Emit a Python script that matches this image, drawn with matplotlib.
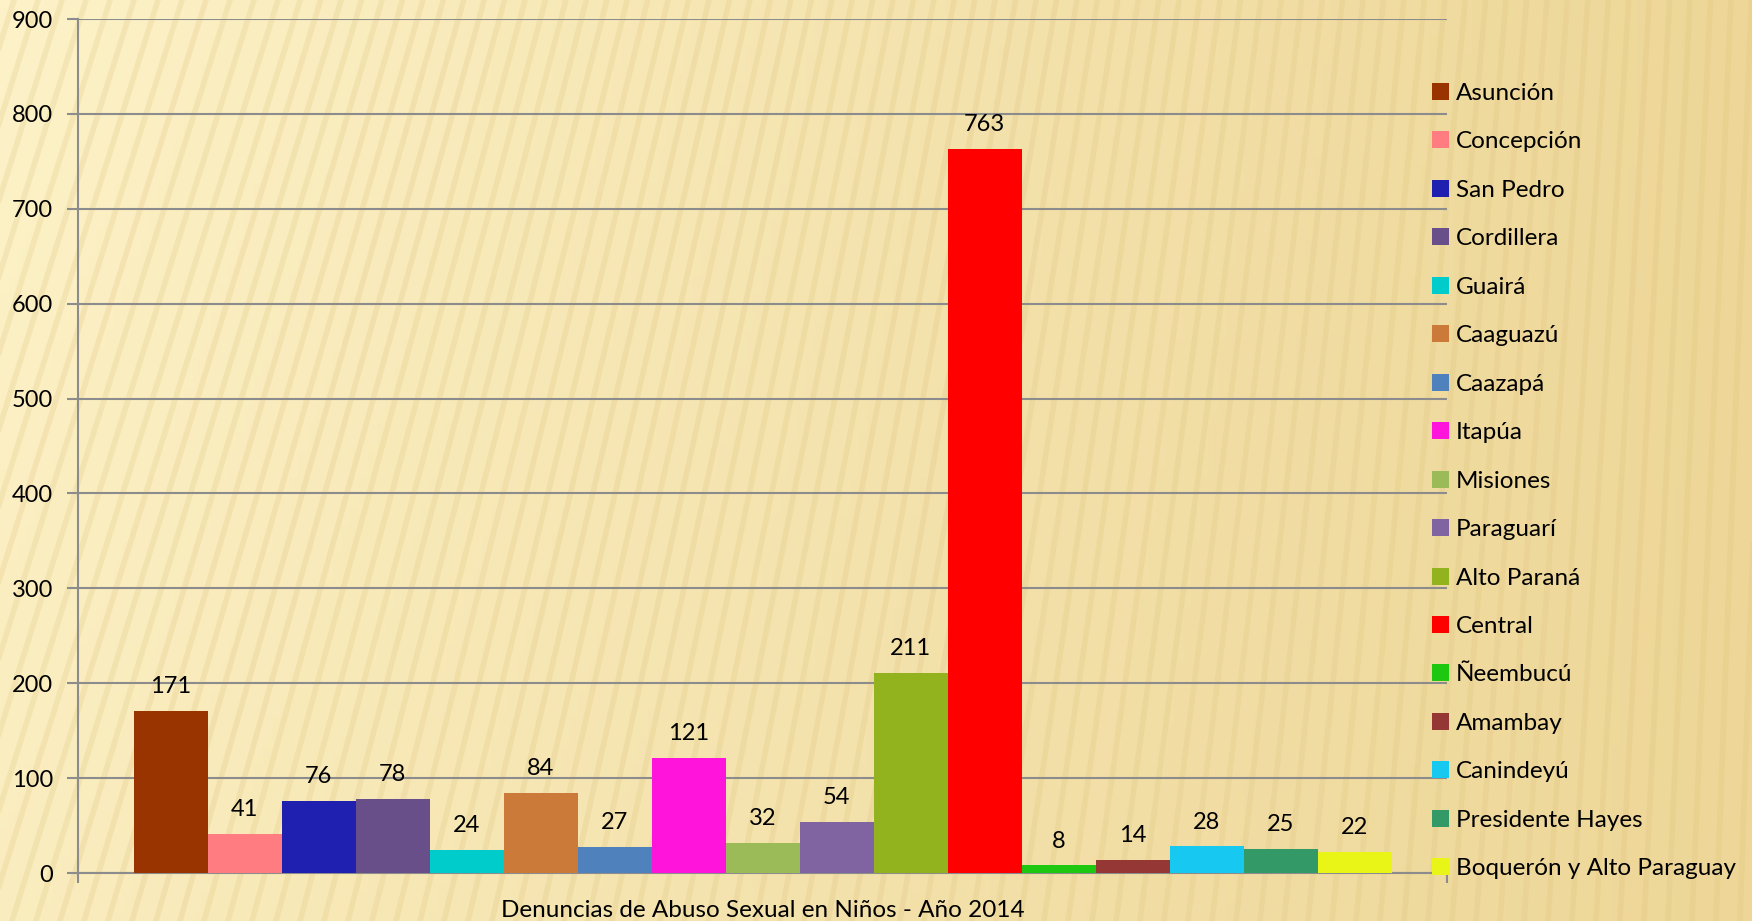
import matplotlib
matplotlib.use("Agg")
import matplotlib.pyplot as plt
import numpy as np

plt.rcParams['font.family'] = ['Lato', 'DejaVu Sans']

departamentos = ["Asunción", "Concepción", "San Pedro", "Cordillera", "Guairá",
                 "Caaguazú", "Caazapá", "Itapúa", "Misiones", "Paraguarí",
                 "Alto Paraná", "Central", "Ñeembucú", "Amambay", "Canindeyú",
                 "Presidente Hayes", "Boquerón y Alto Paraguay"]
denuncias = [171, 41, 76, 78, 24, 84, 27, 121, 32, 54, 211, 763, 8, 14, 28, 25, 22]
colores = ["#993300", "#ff7c80", "#2020b0", "#684f8a", "#00cccc", "#cc7a3a",
           "#4f81bd", "#ff14dc", "#9bbb59", "#8064a2", "#92b21e", "#ff0000",
           "#1ec810", "#953735", "#17c8f0", "#339966", "#e8f516"]
y_ticks = [0, 100, 200, 300, 400, 500, 600, 700, 800, 900]

W, H = 1752, 921
fig = plt.figure(figsize=(W / 100, H / 100), dpi=100)

# background: beige gradient with diagonal stripes
bg = fig.add_axes([0, 0, 1, 1], zorder=-10)
gx = np.linspace(0, 1, 200)
gy = np.linspace(0, 1, 100)
GX, GY = np.meshgrid(gx, gy)
t = np.clip(0.6 * GX + 0.15 * (1 - GY) + 0.15 * GX * GY, 0, 1)
c1 = np.array([253, 242, 200]) / 255
c2 = np.array([232, 205, 135]) / 255
img = c1[None, None, :] * (1 - t[..., None]) + c2[None, None, :] * t[..., None]
bg.imshow(img, extent=[0, W, 0, H], origin="lower", aspect="auto")
for x0 in np.arange(-300, W + 40, 24):
    frac = max(0, min(1, x0 / W))
    dx = 260 * (1 - frac) + 30
    bg.plot([x0, x0 + dx], [0, H], color="#dcc078", lw=4, alpha=0.22)
bg.set_xlim(0, W)
bg.set_ylim(0, H)
bg.axis("off")

ax = fig.add_axes([78 / W, 48 / H, (1447 - 78) / W, (873 - 19) / H])
ax.set_facecolor("none")
x = np.arange(len(denuncias))
bars = ax.bar(x, denuncias, width=1.0, color=colores, label=departamentos, zorder=3)
for xi, v in zip(x, denuncias):
    ax.annotate(str(v), (xi, v), xytext=(0, 10), textcoords="offset points",
                ha="center", va="bottom", fontsize=17, color="black")

ax.set_xlim(-1.25, len(denuncias) + 0.25)
ax.set_ylim(0, 900)
ax.set_yticks(y_ticks)
ax.tick_params(axis="y", labelsize=17, length=8, color="#8c8c8c", width=1.5, pad=10)
ax.set_xticks([-1.25, len(denuncias) + 0.25])
ax.set_xticklabels(["", ""])
ax.tick_params(axis="x", length=7, color="#8c8c8c", width=1.5)
ax.grid(axis="y", color="#8c8c8c", lw=1.5, zorder=0)
for s in ["top", "right"]:
    ax.spines[s].set_visible(False)
for s in ["left", "bottom"]:
    ax.spines[s].set_color("#8c8c8c")
    ax.spines[s].set_linewidth(1.5)
ax.set_xlabel("Denuncias de Abuso Sexual en Niños - Año 2014", fontsize=17.5, labelpad=9)

leg = ax.legend(loc="upper left", bbox_to_anchor=(1422 / W, 1 - 73 / H),
                bbox_transform=fig.transFigure, frameon=False, fontsize=17.5,
                handlelength=0.7, handleheight=0.7, handletextpad=0.3,
                labelspacing=1.13, borderaxespad=0)

fig.savefig("out.png", dpi=100)
